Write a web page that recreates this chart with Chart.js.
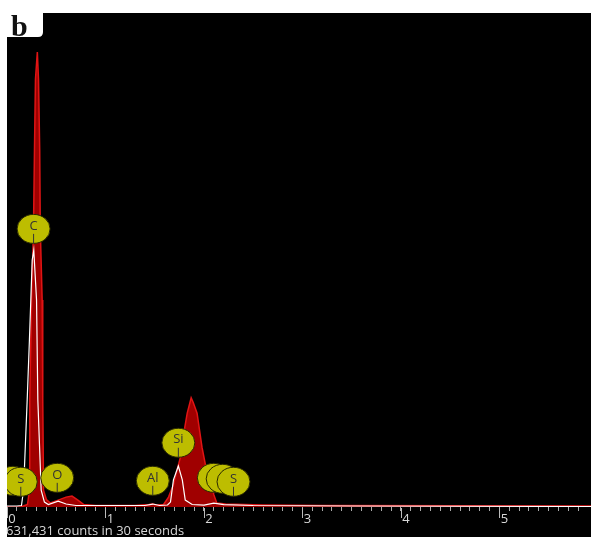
<!DOCTYPE html>
<html lang="en">
<head>
    <meta charset="UTF-8">
    <title>EDS spectrum b</title>
    <script src="https://cdn.jsdelivr.net/npm/chart.js"></script>
    <style>
        html, body { margin: 0; padding: 0; background: #fff; }
        canvas { display: block; }
    </style>
</head>
<body>
    <canvas id="spectrum" width="591" height="537"></canvas>
    <script>
        // red filled spectrum (keV, counts)
        const redKeV = [0, 0.137, 0.208, 0.228, 0.231, 0.249, 0.269, 0.279, 0.289, 0.308, 0.320, 0.332, 0.338, 0.357, 0.363, 0.371,
            0.40, 0.44, 0.52, 0.60, 0.66, 0.72, 0.78, 0.90, 1.30, 1.44, 1.48, 1.52, 1.59, 1.64, 1.69, 1.72, 1.76, 1.80, 1.83,
            1.87, 1.89, 1.93, 1.98, 2.025, 2.07, 2.10, 2.13, 2.22, 2.60, 3.20, 5.93];
        const redCounts = [0, 0, 5, 34, 217, 419, 562, 723, 866, 921, 866, 723, 562, 419, 217, 34,
            15, 8, 14, 20, 22, 14, 5, 3, 3, 5, 6, 4, 5, 20, 45, 70, 100, 155, 190,
            221, 212, 190, 121, 75, 55, 25, 8, 6, 4, 3, 2];

        // white line spectrum
        const whiteKeV = [0, 0.10, 0.147, 0.168, 0.205, 0.228, 0.256, 0.272, 0.300, 0.313, 0.347, 0.38, 0.42, 0.52, 0.60, 0.70,
            1.40, 1.48, 1.55, 1.63, 1.66, 1.69, 1.74, 1.78, 1.81, 1.88, 2.00, 2.10, 2.20, 2.50, 3.50, 5.93];
        const whiteCounts = [2, 2, 3, 34, 217, 340, 500, 520, 419, 217, 34, 10, 5, 12, 6, 3,
            3, 6, 3, 4, 10, 55, 83, 55, 14, 5, 4, 8, 5, 3, 2, 1];

        // element markers
        const markerNames = ['', 'S', 'O', 'C', 'Al', 'Si', '', '', 'S'];
        const markerKeV = [0.06, 0.14, 0.51, 0.27, 1.48, 1.74, 2.10, 2.19, 2.30];
        const markerCounts = [53, 51, 59, 563, 53, 130, 59, 57, 51];

        const majorTicks = [0, 1, 2, 3, 4, 5];
        const countsText = '631,431 counts in 30 seconds';
        const panelLabel = 'b';

        const toPoints = (xs, ys) => xs.map((x, i) => ({ x: x, y: ys[i] }));

        const decor = {
            id: 'decor',
            beforeDraw(chart) {
                const ctx = chart.ctx;
                ctx.save();
                ctx.fillStyle = '#fff';
                ctx.fillRect(0, 0, chart.width, chart.height);
                ctx.fillStyle = '#000';
                ctx.fillRect(7, 13, chart.width - 7, chart.height - 13);
                ctx.restore();
            },
            afterDatasetsDraw(chart) {
                const ctx = chart.ctx;
                const xs = chart.scales.x, ys = chart.scales.y;
                const a = chart.chartArea;
                ctx.save();
                ctx.beginPath();
                ctx.rect(a.left, a.top, a.right - a.left, a.bottom - a.top);
                ctx.clip();
                markerNames.forEach((name, i) => {
                    const cx = xs.getPixelForValue(markerKeV[i]);
                    const cy = ys.getPixelForValue(markerCounts[i]);
                    ctx.beginPath();
                    ctx.ellipse(cx, cy, 16.5, 14.5, 0, 0, Math.PI * 2);
                    ctx.fillStyle = '#bdbd00';
                    ctx.fill();
                    ctx.lineWidth = 1;
                    ctx.strokeStyle = '#2a2a00';
                    ctx.stroke();
                    ctx.beginPath();
                    ctx.moveTo(cx, cy + 5);
                    ctx.lineTo(cx, cy + 14.5);
                    ctx.strokeStyle = '#333';
                    ctx.stroke();
                    ctx.fillStyle = '#333';
                    ctx.font = '13px "Open Sans"';
                    ctx.textAlign = 'center';
                    ctx.textBaseline = 'middle';
                    ctx.fillText(name, cx, cy - 3);
                });
                ctx.restore();
            },
            afterDraw(chart) {
                const ctx = chart.ctx;
                const xs = chart.scales.x;
                const bottom = chart.chartArea.bottom;
                ctx.save();
                ctx.strokeStyle = '#bbb';
                ctx.lineWidth = 1;
                majorTicks.forEach(v => {
                    const px = Math.round(xs.getPixelForValue(v)) + 0.5;
                    ctx.beginPath();
                    ctx.moveTo(px, bottom + 1);
                    ctx.lineTo(px, bottom + 11);
                    ctx.stroke();
                });
                ctx.fillStyle = '#d8d8d8';
                ctx.font = '13px "Open Sans"';
                ctx.textAlign = 'left';
                ctx.textBaseline = 'alphabetic';
                ctx.fillText(countsText, 6, 535);

                // panel label box
                ctx.fillStyle = '#fff';
                ctx.beginPath();
                ctx.moveTo(0, 0);
                ctx.lineTo(43, 0);
                ctx.lineTo(43, 32);
                ctx.quadraticCurveTo(43, 37, 38, 37);
                ctx.lineTo(0, 37);
                ctx.closePath();
                ctx.fill();
                ctx.fillStyle = '#111';
                ctx.font = 'bold 30px "Liberation Serif"';
                ctx.fillText(panelLabel, 11, 36);
                ctx.restore();
            }
        };

        new Chart(document.getElementById('spectrum').getContext('2d'), {
            type: 'line',
            data: {
                datasets: [
                    {
                        label: 'white',
                        data: toPoints(whiteKeV, whiteCounts),
                        borderColor: '#ffffff',
                        borderWidth: 1.2,
                        fill: false,
                        pointRadius: 0,
                        tension: 0
                    },
                    {
                        label: 'red',
                        data: toPoints(redKeV, redCounts),
                        borderColor: '#e01414',
                        backgroundColor: '#a00000',
                        borderWidth: 1.5,
                        fill: 'origin',
                        pointRadius: 0,
                        tension: 0
                    }
                ]
            },
            options: {
                responsive: false,
                animation: false,
                devicePixelRatio: 1,
                layout: { padding: { left: 7, top: 13, right: 0, bottom: 0 } },
                plugins: {
                    legend: { display: false },
                    tooltip: { enabled: false }
                },
                scales: {
                    x: {
                        type: 'linear',
                        min: 0,
                        max: 5.93,
                        afterBuildTicks: (scale) => {
                            scale.ticks = scale.ticks.filter(t => Math.abs(t.value * 10 - Math.round(t.value * 10)) < 1e-6);
                        },
                        afterFit: (scale) => { scale.height = 30; },
                        border: { display: false },
                        grid: {
                            drawOnChartArea: false,
                            tickLength: 4,
                            tickColor: '#aaa',
                            tickWidth: 1
                        },
                        ticks: {
                            stepSize: 0.1,
                            autoSkip: false,
                            maxRotation: 0,
                            color: '#d8d8d8',
                            font: { size: 13, family: 'Open Sans' },
                            padding: 0,
                            labelOffset: 5,
                            callback: (v) => Math.abs(v - Math.round(v)) < 1e-6 ? String(Math.round(v)) : ''
                        }
                    },
                    y: {
                        display: false,
                        min: 0,
                        max: 1000
                    }
                }
            },
            plugins: [decor]
        });
    </script>
</body>
</html>
